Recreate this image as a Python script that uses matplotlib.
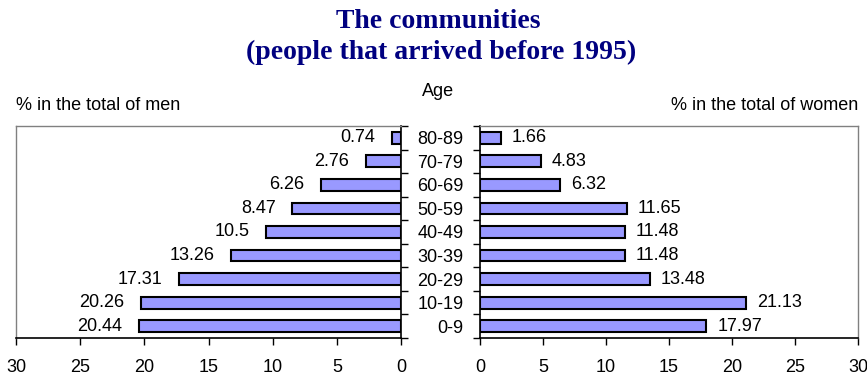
import matplotlib
matplotlib.use("Agg")
import matplotlib.pyplot as plt
import numpy as np

ages = ["0-9", "10-19", "20-29", "30-39", "40-49", "50-59", "60-69", "70-79", "80-89"]
men = [20.44, 20.26, 17.31, 13.26, 10.5, 8.47, 6.26, 2.76, 0.74]
women = [17.97, 21.13, 13.48, 11.48, 11.48, 11.65, 6.32, 4.83, 1.66]
men_labels = ["20.44", "20.26", "17.31", "13.26", "10.5", "8.47", "6.26", "2.76", "0.74"]
women_labels = ["17.97", "21.13", "13.48", "11.48", "11.48", "11.65", "6.32", "4.83", "1.66"]
xticks = [0, 5, 10, 15, 20, 25, 30]

plt.rcParams['font.family'] = ['Liberation Sans', 'DejaVu Sans']
FS = 13
BAR = "#9999FF"
GRAY = "#808080"

fig = plt.figure(figsize=(8.67, 3.78), dpi=100)
W, H = 867, 378
def ax_rect(x0, x1, y0, y1):
    return [x0 / W, 1 - y1 / H, (x1 - x0) / W, (y1 - y0) / H]

axL = fig.add_axes(ax_rect(16, 401, 126, 338))
axR = fig.add_axes(ax_rect(480, 858, 126, 338))

y = np.arange(len(ages))
bounds = np.arange(len(ages) + 1) - 0.5

# Left (men)
axL.barh(y, men, height=0.5, color=BAR, edgecolor="black", linewidth=1.5)
axL.set_xlim(30, 0)
axL.set_ylim(-0.5, len(ages) - 0.5)
axL.set_xticks(xticks)
axL.set_xticklabels([str(t) for t in xticks], fontsize=FS)
axL.yaxis.tick_right()
axL.set_yticks(bounds)
axL.set_yticklabels([])
axL.tick_params(axis='y', direction='out', length=5, width=1, color='black')
axL.tick_params(axis='x', direction='out', length=5, width=1, pad=10)
for s in ['left', 'top']:
    axL.spines[s].set_color(GRAY)
    axL.spines[s].set_linewidth(1)
for s in ['right', 'bottom']:
    axL.spines[s].set_color('black')
    axL.spines[s].set_linewidth(1.2)
for yi, v, lab in zip(y, men, men_labels):
    axL.annotate(lab, (v, yi), xytext=(-12, 0), textcoords='offset points',
                 ha='right', va='center', fontsize=FS)

# Right (women)
axR.barh(y, women, height=0.5, color=BAR, edgecolor="black", linewidth=1.5)
axR.set_xlim(0, 30)
axR.set_ylim(-0.5, len(ages) - 0.5)
axR.set_xticks(xticks)
axR.set_xticklabels([str(t) for t in xticks], fontsize=FS)
axR.set_yticks(bounds)
axR.set_yticklabels([])
axR.set_yticks(y, minor=True)
axR.set_yticklabels(ages, minor=True, fontsize=FS)
axR.tick_params(axis='y', which='major', direction='out', length=5, width=1)
axR.tick_params(axis='y', which='minor', length=0, pad=12)
axR.tick_params(axis='x', direction='out', length=5, width=1, pad=10)
for s in ['right', 'top']:
    axR.spines[s].set_color(GRAY)
    axR.spines[s].set_linewidth(1)
for s in ['left', 'bottom']:
    axR.spines[s].set_color('black')
    axR.spines[s].set_linewidth(1.2)
for yi, v, lab in zip(y, women, women_labels):
    axR.annotate(lab, (v, yi), xytext=(8, 0), textcoords='offset points',
                 ha='left', va='center', fontsize=FS)

# Titles and labels
fig.text(438 / W, 1 - 21 / H, "The communities", ha='center', va='center',
         fontsize=20, fontweight='bold', color='#000080', family='Liberation Serif')
fig.text(441 / W, 1 - 52 / H, "(people that arrived before 1995)", ha='center', va='center',
         fontsize=20, fontweight='bold', color='#000080', family='Liberation Serif')
fig.text(438 / W, 1 - 91 / H, "Age", ha='center', va='center', fontsize=FS)
fig.text(16 / W, 1 - 105 / H, "% in the total of men", ha='left', va='center', fontsize=FS)
fig.text(858 / W, 1 - 105 / H, "% in the total of women", ha='right', va='center', fontsize=FS)

fig.savefig("out.png", dpi=100)
